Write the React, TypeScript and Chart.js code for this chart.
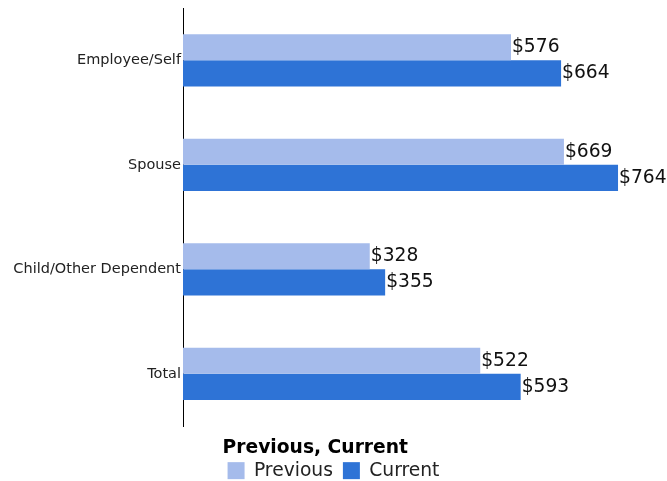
import React, { useEffect, useRef } from "react";
import { Chart, registerables } from "chart.js";

Chart.register(...registerables);

const categories = ["Employee/Self", "Spouse", "Child/Other Dependent", "Total"];
const previousValues = [576, 669, 328, 522];
const currentValues = [664, 764, 355, 593];
const seriesNames = ["Previous", "Current"];
const legendTitle = "Previous, Current";
const xMax = 850;

const FONT = "'DejaVu Sans', Verdana, sans-serif";

const valueLabelPlugin = {
  id: "valueLabels",
  afterDatasetsDraw(chart: any) {
    const ctx = chart.ctx;
    ctx.save();
    ctx.font = `18.7px ${FONT}`;
    ctx.fillStyle = "#111";
    ctx.textAlign = "left";
    ctx.textBaseline = "middle";
    chart.data.datasets.forEach((ds: any, di: number) => {
      const meta = chart.getDatasetMeta(di);
      if (meta.hidden) return;
      meta.data.forEach((el: any, i: number) => {
        ctx.fillText("$" + ds.data[i], el.x + 1, el.y);
      });
    });
    ctx.restore();
  },
};

export default function App() {
  const ref = useRef<HTMLCanvasElement | null>(null);
  useEffect(() => {
    document.body.style.margin = "0";
    document.body.style.overflow = "hidden";
    const chart = new Chart(ref.current as HTMLCanvasElement, {
      type: "bar",
      data: {
        labels: categories,
        datasets: [
          {
            label: seriesNames[0],
            data: previousValues,
            backgroundColor: "#a5bbeb",
            categoryPercentage: 0.5,
            barPercentage: 1,
          },
          {
            label: seriesNames[1],
            data: currentValues,
            backgroundColor: "#2e73d6",
            categoryPercentage: 0.5,
            barPercentage: 1,
          },
        ],
      },
      options: {
        indexAxis: "y",
        animation: false,
        responsive: true,
        maintainAspectRatio: false,
        layout: { padding: { top: 8, left: 0, right: 0, bottom: 0 } },
        scales: {
          x: { display: false, min: 0, max: xMax },
          y: {
            afterFit(scale: any) {
              scale.width = 183;
              scale.paddingTop = 0;
              scale.paddingBottom = 0;
            },
            grid: { display: false, drawTicks: false },
            border: { display: true, color: "#000", width: 1 },
            ticks: {
              padding: 2,
              color: "#222",
              font: { family: FONT, size: 14.5 },
            },
          },
        },
        plugins: {
          tooltip: { enabled: false },
          legend: {
            position: "bottom",
            title: {
              display: true,
              text: legendTitle,
              position: "start",
              color: "#000",
              font: { family: FONT, size: 18.7, weight: "bold", lineHeight: 1 },
              padding: { top: 12.5, bottom: -6 },
            },
            labels: {
              boxWidth: 17,
              boxHeight: 17,
              padding: 10,
              color: "#222",
              font: { family: FONT, size: 18.7 },
            },
          },
        },
      },
      plugins: [valueLabelPlugin],
    } as any);
    return () => chart.destroy();
  }, []);
  return (
    <div style={{ position: "fixed", left: 0, top: 0, width: 667, height: 481, overflow: "hidden" }}>
      <div style={{ position: "relative", width: 667, height: 490 }}>
        <canvas ref={ref} />
      </div>
    </div>
  );
}
